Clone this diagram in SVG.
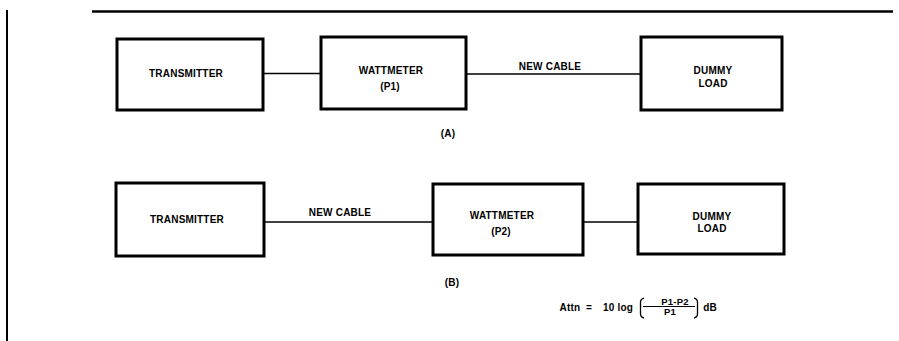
<svg xmlns="http://www.w3.org/2000/svg" width="899" height="341" viewBox="0 0 899 341">
<style>
.box{fill:#fff;stroke:#000;stroke-width:3}
.t{font-family:"Liberation Sans",Arial,sans-serif;font-size:10px;font-weight:bold;fill:#000;text-anchor:middle;letter-spacing:0.2px}
.c{stroke:#000;stroke-width:1.5;fill:none}
.r{stroke:#000;fill:none}
</style>
<rect width="899" height="341" fill="#fff"/>
<g id="frame">
<line class="r" x1="92" y1="11.5" x2="893" y2="11.5" stroke-width="2.5"/>
<line class="r" x1="7" y1="10" x2="7" y2="341" stroke-width="2"/>
</g>
<g id="connectors">
<line class="c" x1="263" y1="73.5" x2="321" y2="73.5"/>
<line class="c" x1="466" y1="74" x2="641" y2="74"/>
<line class="c" x1="264" y1="222" x2="433" y2="222"/>
<line class="c" x1="583" y1="222" x2="638" y2="222"/>
<text class="t" x="550" y="70">NEW  CABLE</text>
<text class="t" x="340" y="216">NEW CABLE</text>
</g>
<g id="a-transmitter">
<rect class="box" x="117" y="39" width="146" height="71"/>
<text class="t" x="186" y="77">TRANSMITTER</text>
</g>
<g id="a-wattmeter">
<rect class="box" x="321" y="37" width="145" height="72"/>
<text class="t" x="391" y="74">WATTMETER</text>
<text class="t" x="390" y="90">(P1)</text>
</g>
<g id="a-dummy">
<rect class="box" x="641" y="37" width="141" height="73"/>
<text class="t" x="713" y="74">DUMMY</text>
<text class="t" x="713" y="87">LOAD</text>
</g>
<g id="label-a"><text class="t" x="448" y="137">(A)</text></g>
<g id="b-transmitter">
<rect class="box" x="116" y="183" width="148" height="73"/>
<text class="t" x="187" y="223">TRANSMITTER</text>
</g>
<g id="b-wattmeter">
<rect class="box" x="433" y="184" width="150" height="71"/>
<text class="t" x="502" y="219">WATTMETER</text>
<text class="t" x="501" y="235">(P2)</text>
</g>
<g id="b-dummy">
<rect class="box" x="638" y="184" width="146" height="70"/>
<text class="t" x="712" y="220">DUMMY</text>
<text class="t" x="712" y="232">LOAD</text>
</g>
<g id="label-b"><text class="t" x="452" y="286">(B)</text></g>
<g id="formula">
<text class="t" x="570" y="311">Attn</text>
<text class="t" x="589" y="311">=</text>
<text class="t" x="618" y="311">10 log</text>
<path class="r" stroke-width="1.3" d="M644 298 Q640.5 299 640.5 302 L640.5 314 Q640.5 317 644 318"/>
<line class="r" stroke-width="1.2" x1="643" y1="306.5" x2="695" y2="306.5"/>
<text class="t" x="675" y="305" style="font-size:9.5px">P1-P2</text>
<text class="t" x="670" y="314.5" style="font-size:9.5px">P1</text>
<path class="r" stroke-width="1.3" d="M694 298 Q697.5 299 697.5 302 L697.5 314 Q697.5 317 694 318"/>
<text class="t" x="710" y="311">dB</text>
</g>
</svg>
